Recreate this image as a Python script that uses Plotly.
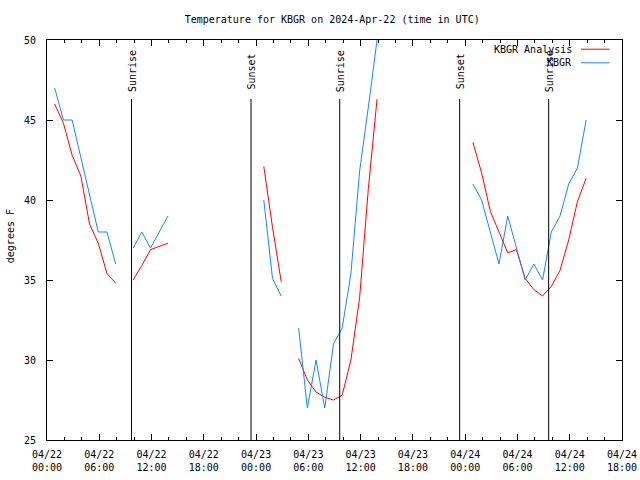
import plotly.graph_objects as go

# ---- data ----
obs_times = [
    "2024-04-22 00:53", "2024-04-22 01:53", "2024-04-22 02:53", "2024-04-22 03:53",
    "2024-04-22 04:53", "2024-04-22 05:53", "2024-04-22 06:53", "2024-04-22 07:53",
    "2024-04-22 08:53", "2024-04-22 09:53", "2024-04-22 10:53", "2024-04-22 11:53",
    "2024-04-22 12:53", "2024-04-22 13:53", "2024-04-22 14:53",
    "2024-04-23 00:53", "2024-04-23 01:53", "2024-04-23 02:53", "2024-04-23 03:53",
    "2024-04-23 04:53", "2024-04-23 05:53", "2024-04-23 06:53", "2024-04-23 07:53",
    "2024-04-23 08:53", "2024-04-23 09:53", "2024-04-23 10:53", "2024-04-23 11:53",
    "2024-04-23 12:53", "2024-04-23 13:53", "2024-04-23 14:53",
    "2024-04-24 00:53", "2024-04-24 01:53", "2024-04-24 02:53", "2024-04-24 03:53",
    "2024-04-24 04:53", "2024-04-24 05:53", "2024-04-24 06:53", "2024-04-24 07:53",
    "2024-04-24 08:53", "2024-04-24 09:53", "2024-04-24 10:53", "2024-04-24 11:53",
    "2024-04-24 12:53", "2024-04-24 13:53",
]

kbgr_obs = [
    47, 45, 45, 42.6, 40.3, 38, 38, 36, None, 37, 38, 37, 38, 39, None,
    40, 35.1, 34, None, 32, 27, 30, 27, 31, 32, 35.4, 41.8, 45.8, 50, None,
    41, 40, 38, 36, 39, 37, 35, 36, 35, 38, 39, 41, 42, 45,
]

kbgr_analysis = [
    46, 44.8, 42.8, 41.5, 38.5, 37.3, 35.4, 34.8, None, 35.0, 35.9, 36.9, 37.1, 37.3, None,
    42.1, 38.3, 34.9, None, 30.1, 28.75, 28.0, 27.67, 27.5, 27.8, 30.0, 33.9, 40.7, 46.3, None,
    43.6, 41.7, 39.3, 38.0, 36.7, 36.9, 35.1, 34.4, 34.0, 34.6, 35.6, 37.5, 39.9, 41.35,
]

sun_event_times = ["2024-04-22 09:42", "2024-04-22 23:25", "2024-04-23 09:36",
                   "2024-04-23 23:22", "2024-04-24 09:35"]
sun_event_labels = ["Sunrise", "Sunset", "Sunrise", "Sunset", "Sunrise"]

series_names = ["KBGR Analysis", "KBGR"]
series_colors = ["#ff0000", "#1487ff"]

x_range = ["2024-04-22 00:00", "2024-04-24 18:00"]
y_range = [25, 50]

FONT = "DejaVu Sans Mono"
FIG_W, FIG_H = 640, 480

fig = go.Figure()
fig.add_trace(go.Scatter(x=obs_times, y=kbgr_analysis, mode="lines", name=series_names[0],
                         line=dict(color=series_colors[0], width=1), connectgaps=False,
                         showlegend=False))
fig.add_trace(go.Scatter(x=obs_times, y=kbgr_obs, mode="lines", name=series_names[1],
                         line=dict(color=series_colors[1], width=1), connectgaps=False,
                         showlegend=False))

shapes = []
annotations = []
for t, lab in zip(sun_event_times, sun_event_labels):
    shapes.append(dict(type="line", xref="x", yref="paper", x0=t, x1=t, y0=0, y1=0.8525,
                       line=dict(color="black", width=1)))
    annotations.append(dict(x=t, y=0.921, xref="x", yref="paper", text=lab, textangle=-90,
                            showarrow=False, xanchor="center", yanchor="middle", xshift=1,
                            font=dict(family=FONT, size=10, color="black")))

# manual gnuplot-style key (text left of sample)
key_y = [0.977, 0.943]
for name, col, ky in zip(series_names, series_colors, key_y):
    annotations.append(dict(x=0.917, y=ky, xref="paper", yref="paper", text=name,
                            showarrow=False, xanchor="right", yanchor="middle",
                            font=dict(family=FONT, size=10, color="black")))
    shapes.append(dict(type="line", xref="paper", yref="paper", x0=0.9287, x1=0.9784,
                       y0=ky, y1=ky, line=dict(color=col, width=1)))

annotations.append(dict(x=-0.064, y=0.51, xref="paper", yref="paper", text="degrees F",
                        textangle=-90, showarrow=False, xanchor="center", yanchor="middle",
                        font=dict(family=FONT, size=10, color="black")))

fig.update_layout(
    width=FIG_W, height=FIG_H,
    margin=dict(l=47, r=18, t=40, b=40, autoexpand=False),
    paper_bgcolor="white", plot_bgcolor="white",
    font=dict(family=FONT, size=10, color="black"),
    title=dict(text="Temperature for KBGR on 2024-Apr-22 (time in UTC)",
               x=0.496, xref="paper", xanchor="center", y=1 - 19 / FIG_H, yref="container",
               yanchor="middle", font=dict(family=FONT, size=10, color="black")),
    shapes=shapes, annotations=annotations,
    showlegend=False,
)
fig.update_xaxes(type="date", range=x_range, tickformat="%m/%d<br>%H:%M",
                 tick0="2024-04-22", dtick=6 * 3600 * 1000,
                 ticks="inside", ticklen=6, tickcolor="black",
                 minor=dict(dtick=2 * 3600 * 1000, ticks="inside", ticklen=3, tickcolor="black",
                            showgrid=False),
                 showline=True, linecolor="black", linewidth=1, mirror="ticks",
                 showgrid=False, zeroline=False, ticklabelstandoff=5, automargin=False,
                 tickfont=dict(family=FONT, size=10, color="black"))
fig.update_yaxes(range=y_range, dtick=5, tick0=25, ticks="inside", ticklen=6, tickcolor="black",
                 showline=True, linecolor="black", linewidth=1, mirror="ticks",
                 showgrid=False, zeroline=False, ticklabelstandoff=8, automargin=False,
                 tickfont=dict(family=FONT, size=10, color="black"))

fig.write_html("out.html",
               config={"displayModeBar": False},
               post_script="document.body.style.margin='0';document.body.style.overflow='hidden';")
